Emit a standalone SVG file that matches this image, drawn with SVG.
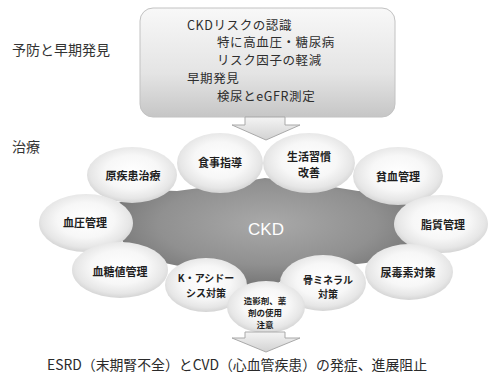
<svg xmlns="http://www.w3.org/2000/svg" width="489" height="378" viewBox="0 0 489 378">
<style>
text{font-family:"Noto Sans CJK JP","Noto Sans",sans-serif;fill:#2a2a2a}
.side{font-size:14px;fill:#333}
.box{font-size:12.5px;fill:#2e2e2e;letter-spacing:0.6px}
.lb{font-size:11px;font-weight:bold;text-anchor:middle;fill:#1e1e1e}
.lb10{font-size:10px;font-weight:bold;text-anchor:middle;fill:#1e1e1e}
.lb9{font-size:8.5px;font-weight:bold;text-anchor:middle;fill:#1e1e1e}
.ell{fill:url(#eg)}
.arr{fill:url(#ag);stroke:#a9a9a9;stroke-width:1}
</style>
<defs>
<linearGradient id="bg" x1="0" y1="0" x2="0" y2="1">
<stop offset="0" stop-color="#f8f8f8"/>
<stop offset="0.6" stop-color="#e4e4e4"/>
<stop offset="1" stop-color="#c6c6c6"/>
</linearGradient>
<radialGradient id="eg" cx="0.5" cy="0.45" r="0.55">
<stop offset="0" stop-color="#ffffff"/>
<stop offset="0.55" stop-color="#f7f7f7"/>
<stop offset="0.85" stop-color="#e6e6e6"/>
<stop offset="1" stop-color="#d4d4d4"/>
</radialGradient>
<radialGradient id="sg" cx="0.5" cy="0.4" r="0.6">
<stop offset="0" stop-color="#a9a9a9"/>
<stop offset="0.6" stop-color="#909090"/>
<stop offset="1" stop-color="#6e6e6e"/>
</radialGradient>
<linearGradient id="ag" x1="0" y1="0" x2="0" y2="1">
<stop offset="0" stop-color="#f4f4f4"/>
<stop offset="1" stop-color="#d2d2d2"/>
</linearGradient>
</defs>
<rect width="489" height="378" fill="#ffffff"/>
<text class="side" x="12" y="55">予防と早期発見</text>
<text class="side" x="12" y="152">治療</text>
<g id="prevention-box">
<rect x="140" y="8" width="255" height="109" rx="13" ry="13" fill="url(#bg)" stroke="#c2c2c2" stroke-width="1"/>
<text class="box" x="187" y="29.5">CKDリスクの認識</text>
<text class="box" x="217" y="47.25">特に高血圧・糖尿病</text>
<text class="box" x="217" y="65">リスク因子の軽減</text>
<text class="box" x="187" y="82.75">早期発見</text>
<text class="box" x="217" y="100.5">検尿とeGFR測定</text>
</g>
<g id="ckd">
<polygon fill="url(#sg)" points="118,203 150,190 177,191 222,185 265,178 309,183 358,191 380,192 409,206 420,225 408,245 385,258 366,263 322,268 285,278 266,292 246,285 207,272 160,262 140,255 123,242 115,222"/>
<text x="266" y="235" text-anchor="middle" style="font-family:'Liberation Sans',Arial,sans-serif;font-size:17px;fill:#ffffff">CKD</text>
</g>
<g id="n-genshikkan"><ellipse class="ell" cx="132" cy="175" rx="45" ry="28"/><text class="lb" x="133" y="180">原疾患治療</text></g>
<g id="n-shokuji"><ellipse class="ell" cx="220" cy="163" rx="43" ry="30"/><text class="lb" x="220" y="167">食事指導</text></g>
<g id="n-seikatsu"><ellipse class="ell" cx="309" cy="163" rx="46" ry="30"/><text class="lb" x="309" y="161">生活習慣</text><text class="lb" x="309" y="177">改善</text></g>
<g id="n-hinketsu"><ellipse class="ell" cx="398" cy="176" rx="45" ry="29"/><text class="lb" x="398" y="181">貧血管理</text></g>
<g id="n-shishitsu"><ellipse class="ell" cx="441" cy="224" rx="47" ry="29"/><text class="lb" x="443" y="229">脂質管理</text></g>
<g id="n-ketsuatsu"><ellipse class="ell" cx="86" cy="223" rx="47" ry="29"/><text class="lb" x="85" y="227">血圧管理</text></g>
<g id="n-ketto"><ellipse class="ell" cx="120" cy="270" rx="48" ry="28"/><text class="lb" x="120" y="276">血糖値管理</text></g>
<g id="n-kacidosis"><ellipse class="ell" cx="206" cy="285" rx="41" ry="27"/><text class="lb10" x="206" y="282">K・アシドー</text><text class="lb10" x="206" y="297">シス対策</text></g>
<g id="n-nyodokuso"><ellipse class="ell" cx="409" cy="272" rx="44" ry="28"/><text class="lb" x="408" y="277">尿毒素対策</text></g>
<g id="n-hone"><ellipse class="ell" cx="323" cy="283" rx="43" ry="28"/><text class="lb10" x="328" y="284">骨ミネラル</text><text class="lb10" x="328" y="298">対策</text></g>
<g id="n-zoeizai"><ellipse class="ell" cx="266" cy="307" rx="39" ry="26"/><text class="lb9" x="265" y="304">造影剤、薬</text><text class="lb9" x="265" y="316">剤の使用</text><text class="lb9" x="265" y="328">注意</text></g>
<g id="connectors">
<polygon class="arr" points="245,117 285,117 285,125 300,125 266,140 232,125 245,125"/>
<polygon class="arr" points="245,332 285,332 285,338 300,338 266,352 232,338 245,338"/>
</g>
<text x="237" y="370" text-anchor="middle" textLength="380" lengthAdjust="spacingAndGlyphs" style="font-size:14px;fill:#2a2a2a">ESRD（末期腎不全）とCVD（心血管疾患）の発症、進展阻止</text>
</svg>
